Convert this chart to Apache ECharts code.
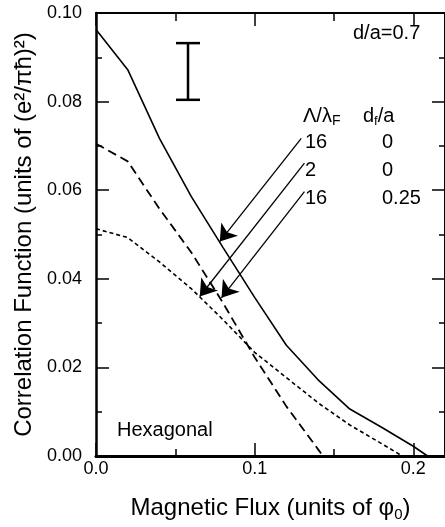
<!DOCTYPE html>
<html><head><meta charset="utf-8">
<script src="https://cdn.jsdelivr.net/npm/echarts@6/dist/echarts.min.js"></script>
<style>html,body{margin:0;padding:0;background:#fff}#c{width:445px;height:527px}</style>
</head><body><div id="c"></div>
<script>
// ---- data ----
const solidX  = [0, 0.02, 0.04, 0.06, 0.08, 0.10, 0.12, 0.14, 0.16, 0.18, 0.20, 0.209];
const solidY  = [0.0963, 0.0872, 0.0717, 0.0586, 0.0471, 0.0358, 0.0250, 0.0172, 0.0106, 0.0065, 0.0022, 0];
const dashX   = [0, 0.02, 0.04, 0.06, 0.08, 0.10, 0.12, 0.14, 0.143];
const dashY   = [0.0705, 0.0665, 0.0558, 0.0460, 0.0346, 0.0223, 0.0112, 0.0015, 0];
const dotX    = [0, 0.02, 0.04, 0.06, 0.08, 0.10, 0.12, 0.14, 0.16, 0.18, 0.193];
const dotY    = [0.0513, 0.0493, 0.0438, 0.0378, 0.0308, 0.0234, 0.0177, 0.0120, 0.0070, 0.0028, 0];
const errorBar = [0.058, 0.0804, 0.0932];           // x, low, high
const arrowFrom = [[0.1294, 0.0717], [0.1314, 0.0661], [0.1314, 0.0597]];
const arrowTo   = [[0.0780, 0.0484], [0.0654, 0.0360], [0.0791, 0.0357]];
const xTickLabels = ['0.0', '0.1', '0.2'];
const yTickLabels = ['0.00', '0.02', '0.04', '0.06', '0.08', '0.10'];
const legendRows = [['16', '0'], ['2', '0'], ['16', '0.25']];

const FONT = '"Liberation Sans", Arial, Helvetica, sans-serif';
const X_MIN = 0, X_MAX = 0.22, Y_MIN = 0, Y_MAX = 0.10;

function pairs(xs, ys) { return xs.map((x, i) => [x, ys[i]]); }

function xAx(pos, interval, len, opts) {
  opts = opts || {};
  return Object.assign({
    type: 'value', position: pos, min: X_MIN, max: X_MAX, interval: interval,
    axisLine: { show: !!opts.line, onZero: false, lineStyle: { color: '#000', width: opts.lineW || 2 } },
    axisTick: { show: true, inside: true, length: len, lineStyle: { color: '#000', width: opts.tickW || 1.5 } },
    axisLabel: { show: false },
    splitLine: { show: false }
  }, opts.extra || {});
}
function yAx(pos, interval, len, opts) {
  opts = opts || {};
  return Object.assign({
    type: 'value', position: pos, min: Y_MIN, max: Y_MAX, interval: interval,
    axisLine: { show: !!opts.line, onZero: false, lineStyle: { color: '#000', width: opts.lineW || 2 } },
    axisTick: { show: true, inside: true, length: len, lineStyle: { color: '#000', width: opts.tickW || 1.5 } },
    axisLabel: { show: false },
    splitLine: { show: false }
  }, opts.extra || {});
}

const chart = echarts.init(document.getElementById('c'), null, { renderer: 'canvas' });

const option = {
  backgroundColor: '#fff',
  animation: false,
  textStyle: { fontFamily: FONT, color: '#000' },
  grid: { left: 96, top: 13, width: 350, height: 444, containLabel: false },
  xAxis: [
    xAx('bottom', 0.1, 13, { line: true, lineW: 3, extra: {
      axisLabel: { show: true, fontSize: 18, fontFamily: FONT, color: '#000', margin: 4,
        showMaxLabel: false,
        formatter: v => { const i = Math.round(v / 0.1); return xTickLabels[i] !== undefined && Math.abs(v - i * 0.1) < 1e-9 ? xTickLabels[i] : ''; } },
      name: 'Magnetic Flux (units of {g|φ}{s|0})',
      nameLocation: 'middle', nameGap: 38,
      nameTextStyle: { fontSize: 24, fontFamily: FONT, color: '#000',
        rich: {
          g: { fontSize: 24, fontFamily: FONT, lineHeight: 28, verticalAlign: 'middle' },
          s: { fontSize: 15, fontFamily: FONT, lineHeight: 15, verticalAlign: 'bottom' }
        } }
    } }),
    xAx('bottom', 0.05, 7),
    xAx('top', 0.1, 13, { line: true, lineW: 2 }),
    xAx('top', 0.05, 8)
  ],
  yAxis: [
    yAx('left', 0.02, 13, { line: true, lineW: 2.5, extra: {
      axisLabel: { show: true, fontSize: 18, fontFamily: FONT, color: '#000', margin: 14,
        formatter: v => { const i = Math.round(v / 0.02); return yTickLabels[i] || ''; } },
      name: 'Correlation Function (units of (e²/πħ)²)',
      nameLocation: 'middle', nameGap: 58,
      nameTextStyle: { fontSize: 24, fontFamily: FONT, color: '#000' }
    } }),
    yAx('left', 0.01, 6),
    yAx('right', 0.02, 13, { line: true, lineW: 2 }),
    yAx('right', 0.01, 6)
  ],
  series: [
    { type: 'line', name: 'L16 d0', data: pairs(solidX, solidY), showSymbol: false, symbol: 'none',
      lineStyle: { color: '#000', width: 1.6, type: 'solid' }, z: 3 },
    { type: 'line', name: 'L2 d0', data: pairs(dashX, dashY), showSymbol: false, symbol: 'none',
      lineStyle: { color: '#000', width: 1.8, type: [9, 5] }, z: 3 },
    { type: 'line', name: 'L16 d0.25', data: pairs(dotX, dotY), showSymbol: false, symbol: 'none',
      lineStyle: { color: '#000', width: 1.6, type: [4, 3] }, z: 3 },
    { type: 'lines', coordinateSystem: 'cartesian2d', polyline: false,
      symbol: ['none', 'arrow'], symbolSize: [8, 16],
      lineStyle: { color: '#000', width: 1.3, opacity: 1, curveness: 0 },
      data: arrowFrom.map((f, i) => ({ coords: [f, arrowTo[i]] })), z: 4 },
    { type: 'custom', data: [errorBar], encode: { x: 0, y: [1, 2] }, z: 4,
      renderItem: function (params, api) {
        const x = api.value(0);
        const lo = api.coord([x, api.value(1)]);
        const hi = api.coord([x, api.value(2)]);
        const hw = 12;
        const st = { stroke: '#000', lineWidth: 2.5, fill: null };
        return { type: 'group', children: [
          { type: 'line', shape: { x1: lo[0], y1: lo[1], x2: hi[0], y2: hi[1] }, style: st },
          { type: 'line', shape: { x1: lo[0] - hw, y1: lo[1], x2: lo[0] + hw, y2: lo[1] }, style: st },
          { type: 'line', shape: { x1: hi[0] - hw, y1: hi[1], x2: hi[0] + hw, y2: hi[1] }, style: st }
        ] };
      } }
  ],
  graphic: [
    { type: 'text', x: 353, y: 33, style: { text: 'd/a=0.7', font: '20px ' + FONT, fill: '#000', textVerticalAlign: 'middle' } },
    { type: 'text', x: 117, y: 430, style: { text: 'Hexagonal', font: '20px ' + FONT, fill: '#000', textVerticalAlign: 'middle' } },
    { type: 'text', x: 303, y: 104, style: { text: '{m|Λ/λ}{s|F}', fill: '#000',
        rich: { m: { fontSize: 20, fontFamily: FONT, lineHeight: 24, verticalAlign: 'middle' },
                s: { fontSize: 14, fontFamily: FONT, lineHeight: 14, verticalAlign: 'bottom' } } } },
    { type: 'text', x: 363, y: 104, style: { text: '{m|d}{s|f}{m|/a}', fill: '#000',
        rich: { m: { fontSize: 20, fontFamily: FONT, lineHeight: 24, verticalAlign: 'middle' },
                s: { fontSize: 13, fontFamily: FONT, lineHeight: 13, verticalAlign: 'bottom' } } } }
  ].concat(legendRows.map((r, i) => ({ type: 'text', x: 305, y: [142, 170, 198][i],
      style: { text: r[0], font: '20px ' + FONT, fill: '#000', textVerticalAlign: 'middle' } })))
   .concat(legendRows.map((r, i) => ({ type: 'text', x: 382, y: [142, 170, 198][i],
      style: { text: r[1], font: '20px ' + FONT, fill: '#000', textVerticalAlign: 'middle' } })))
};
chart.setOption(option);
</script></body></html>
